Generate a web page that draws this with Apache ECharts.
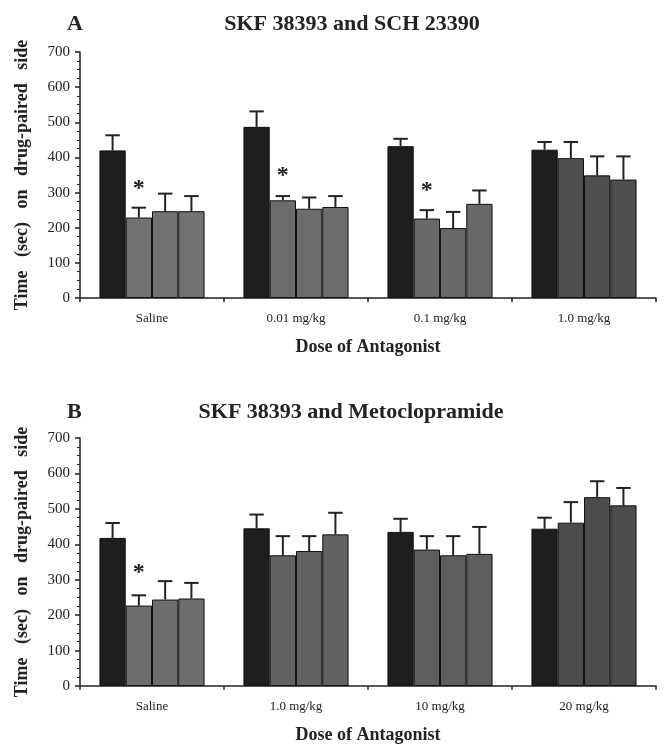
<!DOCTYPE html>
<html>
<head>
<meta charset="utf-8">
<script src="https://cdn.jsdelivr.net/npm/echarts@6/dist/echarts.min.js"></script>
<style>
  html, body { margin: 0; padding: 0; background: #fff; }
  #main { width: 665px; height: 747px; }
</style>
</head>
<body>
<div id="main"></div>
<script>
// panel A: SKF 38393 and SCH 23390
var catsA = ['Saline', '0.01 mg/kg', '0.1 mg/kg', '1.0 mg/kg']
var a1 = [420, 487, 432, 422]
var a2 = [229, 278, 226, 398]
var a3 = [247, 254, 199, 349]
var a4 = [247, 259, 268, 337]
var a1Sem = [43, 44, 21, 22]
var a2Sem = [28, 12, 24, 46]
var a3Sem = [50, 32, 46, 54]
var a4Sem = [43, 31, 38, 66]
var starA = [[0, 311], [1, 349], [2, 304]] // [group, y] over 2nd bar

// panel B: SKF 38393 and Metoclopramide
var catsB = ['Saline', '1.0 mg/kg', '10 mg/kg', '20 mg/kg']
var b1 = [418, 445, 435, 444]
var b2 = [227, 369, 385, 461]
var b3 = [244, 381, 369, 533]
var b4 = [247, 428, 373, 510]
var b1Sem = [42, 39, 37, 31]
var b2Sem = [29, 54, 38, 58]
var b3Sem = [52, 42, 54, 45]
var b4Sem = [44, 61, 76, 49]
var starB = [[0, 320]]

var yTicks = [0, 100, 200, 300, 400, 500, 600, 700]

// styles
var serif = '"Liberation Serif", "DejaVu Serif", serif'
var catGap = 0.27
var darkCol = '#1e1e1e'
var grayA = ['#727272', '#6c6c6c', '#686868', '#4f4f4f']
var grayB = ['#6e6e6e', '#626262', '#5e5e5e', '#4c4c4c']

var chart = echarts.init(document.getElementById('main'))

function barSeries(idx, data, grays) {
  return {
    type: 'bar',
    xAxisIndex: idx,
    yAxisIndex: idx,
    data: data,
    barGap: '0%',
    barCategoryGap: (catGap * 100) + '%',
    itemStyle: {
      borderColor: '#111',
      borderWidth: 1,
      color: grays ? function(p) { return grays[p.dataIndex] } : darkCol
    },
    silent: true
  }
}

function errSeries(idx, means, sems) {
  var data = []
  for (var s = 0; s < means.length; s++) {
    for (var g = 0; g < means[s].length; g++) {
      data.push([g, s, means[s][g], sems[s][g]])
    }
  }
  return {
    type: 'custom',
    xAxisIndex: idx,
    yAxisIndex: idx,
    data: data,
    encode: { x: 0, y: 2 },
    z: 5,
    silent: true,
    renderItem: function(params, api) {
      var g = api.value(0)
      var s = api.value(1)
      var m = api.value(2)
      var band = api.size([1, 0])[0]
      var bw = band * (1 - catGap) / 4
      var cx = api.coord([g, 0])[0] + (s - 1.5) * bw
      var y0 = api.coord([g, m])[1]
      var y1 = api.coord([g, m + api.value(3)])[1]
      var cap = bw * 0.55
      var st = { stroke: '#222', lineWidth: 2 }
      return {
        type: 'group',
        children: [
          { type: 'line', shape: { x1: cx, y1: y0, x2: cx, y2: y1 }, style: st },
          { type: 'line', shape: { x1: cx - cap / 2, y1: y1, x2: cx + cap / 2, y2: y1 }, style: st }
        ]
      }
    }
  }
}

function starSeries(idx, stars) {
  return {
    type: 'custom',
    xAxisIndex: idx,
    yAxisIndex: idx,
    data: stars,
    encode: { x: 0, y: 1 },
    z: 6,
    silent: true,
    renderItem: function(params, api) {
      var band = api.size([1, 0])[0]
      var bw = band * (1 - catGap) / 4
      var p = api.coord([api.value(0), api.value(1)])
      return {
        type: 'text',
        x: p[0] - 0.5 * bw,
        y: p[1],
        style: {
          text: '*', fill: '#222', font: 'bold 24px ' + serif,
          align: 'center', verticalAlign: 'middle'
        }
      }
    }
  }
}

function xAx(idx, cats) {
  return {
    type: 'category',
    gridIndex: idx,
    data: cats,
    axisLine: { lineStyle: { color: '#222', width: 1.5 } },
    axisTick: { show: true, length: 4, lineStyle: { color: '#222', width: 1.5 } },
    axisLabel: { color: '#222', fontFamily: serif, fontSize: 13, margin: 14 },
    name: 'Dose of Antagonist',
    nameLocation: 'middle',
    nameGap: 40,
    nameTextStyle: { color: '#222', fontFamily: serif, fontSize: 18, fontWeight: 'bold' }
  }
}

function yAx(idx) {
  return {
    type: 'value',
    gridIndex: idx,
    min: yTicks[0],
    max: yTicks[yTicks.length - 1],
    interval: 100,
    axisLine: { show: true, lineStyle: { color: '#222', width: 1.5 } },
    axisTick: { show: true, length: 5, lineStyle: { color: '#222', width: 1.5 } },
    minorTick: { show: true, splitNumber: 4, length: 3, lineStyle: { color: '#222', width: 1 } },
    splitLine: { show: false },
    axisLabel: { color: '#222', fontFamily: serif, fontSize: 15, margin: 10 },
    name: 'Time   (sec)   on   drug-paired   side',
    nameLocation: 'middle',
    nameGap: 49,
    nameTextStyle: { color: '#222', fontFamily: serif, fontSize: 18, fontWeight: 'bold' }
  }
}

var titleStyle = { color: '#222', fontFamily: serif, fontSize: 22, fontWeight: 'bold' }

var option = {
  animation: false,
  backgroundColor: '#fff',
  title: [
    { text: 'A', left: 62, top: 8, textStyle: titleStyle },
    { text: 'SKF 38393 and SCH 23390', left: 347, top: 8, textAlign: 'center', textStyle: titleStyle },
    { text: 'B', left: 62, top: 396, textStyle: titleStyle },
    { text: 'SKF 38393 and Metoclopramide', left: 346, top: 396, textAlign: 'center', textStyle: titleStyle }
  ],
  grid: [
    { left: 80, right: 9, top: 52, height: 246 },
    { left: 80, right: 9, top: 438, height: 248 }
  ],
  xAxis: [xAx(0, catsA), xAx(1, catsB)],
  yAxis: [yAx(0), yAx(1)],
  series: [
    barSeries(0, a1), barSeries(0, a2, grayA), barSeries(0, a3, grayA), barSeries(0, a4, grayA),
    barSeries(1, b1), barSeries(1, b2, grayB), barSeries(1, b3, grayB), barSeries(1, b4, grayB),
    errSeries(0, [a1, a2, a3, a4], [a1Sem, a2Sem, a3Sem, a4Sem]),
    errSeries(1, [b1, b2, b3, b4], [b1Sem, b2Sem, b3Sem, b4Sem]),
    starSeries(0, starA),
    starSeries(1, starB)
  ]
}

chart.setOption(option)
</script>
</body>
</html>
